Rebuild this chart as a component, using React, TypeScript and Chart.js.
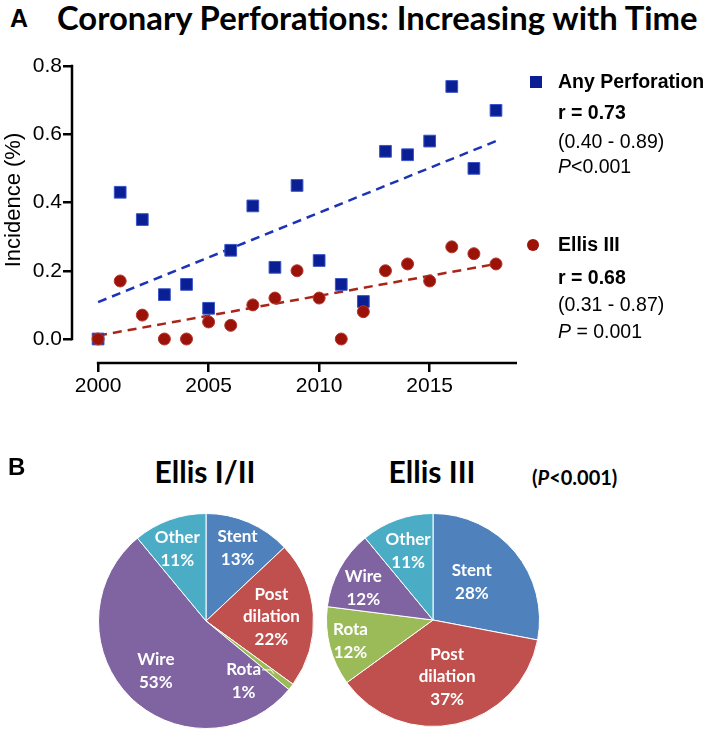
import React, { useEffect, useRef } from "react";
import { Chart, registerables } from "chart.js";
Chart.register(...registerables);

// ---------- Data ----------
const years = [2000, 2001, 2002, 2003, 2004, 2005, 2006, 2007, 2008, 2009, 2010, 2011, 2012, 2013, 2014, 2015, 2016, 2017, 2018];
const anyPerforation = [0, 0.43, 0.35, 0.13, 0.16, 0.09, 0.26, 0.39, 0.21, 0.45, 0.23, 0.16, 0.11, 0.55, 0.54, 0.58, 0.74, 0.5, 0.67];
const ellisIII = [0, 0.17, 0.07, 0, 0, 0.05, 0.04, 0.1, 0.12, 0.2, 0.12, 0, 0.08, 0.2, 0.22, 0.17, 0.27, 0.25, 0.22];
const trendYears = [2000, 2018];
const anyTrend = [0.108, 0.58];
const ellisTrend = [0.01, 0.22];
const yTicks = [0, 0.2, 0.4, 0.6, 0.8];
const xTicks = [2000, 2005, 2010, 2015];

const pieCategories = ["Stent", "Post dilation", "Rota", "Wire", "Other"];
const ellisI_II_share = [13, 22, 1, 53, 11];
const ellisIII_share = [28, 37, 12, 12, 11];
const pieColors = ["#4F81BD", "#C0504D", "#9BBB59", "#8064A2", "#4BACC6"];

// ---------- Styles ----------
const BLUE = "#0b1f94";
const BLUE_EDGE = "#3b55c8";
const RED = "#9a1208";
const RED_EDGE = "#b3382e";
const SANS = "'Liberation Sans', Arial, Helvetica, sans-serif";
const CAL = "Lato, 'Open Sans', sans-serif";

const pie1Place = { radius: [0.74, 0.61, 0.66, 0.66, 0.72], shift: [0, 0, 20.2, 0, -2], leader: [false, false, true, false, false] };
const pie2Place = { radius: [0.51, 0.55, 0.8, 0.72, 0.69], shift: [-4.7, -1.4, 0, -4.2, 0], leader: [false, false, false, false, false] };

function T(props: any) {
  const { x, y, size, weight, family, color, anchor, children, style } = props;
  const tx = anchor === "center" ? "-50%" : anchor === "right" ? "-100%" : "0";
  return (
    <div
      style={{
        position: "absolute",
        left: x,
        top: y,
        transform: `translate(${tx}, -50%)`,
        fontSize: size,
        fontWeight: weight || "normal",
        fontFamily: family || SANS,
        color: color || "#000",
        lineHeight: 1,
        whiteSpace: "nowrap",
        ...(style || {}),
      }}
    >
      {children}
    </div>
  );
}

function ScatterChart() {
  const ref = useRef<HTMLCanvasElement>(null);
  useEffect(() => {
    const axisPlugin = {
      id: "gpAxes",
      afterDatasetsDraw(chart: any) {
        const { ctx, chartArea, scales } = chart;
        const xs = scales.x;
        const ys = scales.y;
        ctx.save();
        ctx.strokeStyle = "#000";
        ctx.lineWidth = 2.5;
        ctx.lineCap = "butt";
        ctx.beginPath();
        ctx.moveTo(chartArea.left, ys.getPixelForValue(yTicks[yTicks.length - 1]) - 1.25);
        ctx.lineTo(chartArea.left, ys.getPixelForValue(yTicks[0]) + 1.25);
        ctx.stroke();
        ctx.beginPath();
        ctx.moveTo(xs.getPixelForValue(xTicks[0]) - 1.25, chartArea.bottom);
        ctx.lineTo(chartArea.right, chartArea.bottom);
        ctx.stroke();
        ctx.restore();
      },
    };
    const gridOpts = {
      display: true,
      drawOnChartArea: false,
      drawTicks: true,
      tickLength: 9,
      color: "#000",
      lineWidth: 2.5,
    };
    const chart = new Chart(ref.current as HTMLCanvasElement, {
      type: "scatter",
      data: {
        datasets: [
          {
            label: "Ellis III",
            data: years.map((x, i) => ({ x, y: ellisIII[i] })),
            pointStyle: "circle",
            pointRadius: 6,
            backgroundColor: RED,
            borderColor: RED_EDGE,
            borderWidth: 1,
            order: 0,
            clip: false,
          } as any,
          {
            label: "Any Perforation",
            data: years.map((x, i) => ({ x, y: anyPerforation[i] })),
            pointStyle: "rect",
            pointRadius: 8.3,
            backgroundColor: BLUE,
            borderColor: BLUE_EDGE,
            borderWidth: 1,
            order: 1,
            clip: false,
          } as any,
          {
            type: "line",
            label: "Any trend",
            data: trendYears.map((x, i) => ({ x, y: anyTrend[i] })),
            borderColor: "#1c33b8",
            borderWidth: 2.5,
            borderDash: [9, 6],
            pointRadius: 0,
            fill: false,
            order: 2,
          } as any,
          {
            type: "line",
            label: "Ellis trend",
            data: trendYears.map((x, i) => ({ x, y: ellisTrend[i] })),
            borderColor: "#aa2419",
            borderWidth: 2.5,
            borderDash: [9, 6],
            pointRadius: 0,
            fill: false,
            order: 2,
          } as any,
        ],
      },
      options: {
        responsive: false,
        animation: false,
        devicePixelRatio: 1,
        layout: { padding: { top: 26, right: 192, left: 0, bottom: 0 } },
        plugins: { legend: { display: false }, tooltip: { enabled: false } },
        scales: {
          x: {
            type: "linear",
            min: 1998.82,
            max: 2018.95,
            afterBuildTicks: (s: any) => {
              s.ticks = xTicks.map((v) => ({ value: v }));
            },
            afterFit: (s: any) => {
              s.height = 37;
            },
            grid: gridOpts,
            border: { display: false },
            ticks: {
              color: "#000",
              font: { family: SANS, size: 21 },
              padding: 2,
              maxRotation: 0,
              autoSkip: false,
              callback: (v: any) => String(v),
            },
          },
          y: {
            type: "linear",
            min: -0.0703,
            max: 0.8,
            afterBuildTicks: (s: any) => {
              s.ticks = yTicks.map((v) => ({ value: v }));
            },
            afterFit: (s: any) => {
              s.width = 72;
            },
            grid: gridOpts,
            border: { display: false },
            ticks: {
              color: "#000",
              font: { family: SANS, size: 21 },
              padding: 1,
              autoSkip: false,
              callback: (v: any) => Number(v).toFixed(1),
            },
          },
        },
      } as any,
      plugins: [axisPlugin],
    });
    return () => chart.destroy();
  }, []);
  return <canvas ref={ref} width={709} height={360} style={{ position: "absolute", left: 0, top: 40, width: 709, height: 360 }} />;
}

function PieChart(props: any) {
  const { values, place, left, top, size, pad } = props;
  const ref = useRef<HTMLCanvasElement>(null);
  useEffect(() => {
    const labelPlugin = {
      id: "sliceLabels",
      afterDatasetsDraw(chart: any) {
        const { ctx } = chart;
        const meta = chart.getDatasetMeta(0);
        ctx.save();
        ctx.fillStyle = "#fff";
        ctx.font = `bold 17px ${CAL}`;
        ctx.textAlign = "center";
        ctx.textBaseline = "middle";
        const lh = 22.5;
        meta.data.forEach((arc: any, i: number) => {
          const p = arc.getProps(["x", "y", "startAngle", "endAngle", "outerRadius"], true);
          const mid = (p.startAngle + p.endAngle) / 2;
          const ang = mid + (place.shift[i] * Math.PI) / 180;
          const r = p.outerRadius * place.radius[i];
          const cx = p.x + Math.cos(ang) * r;
          const cy = p.y + Math.sin(ang) * r;
          const lines = [...pieCategories[i].split(" "), `${values[i]}%`];
          const y0 = cy - ((lines.length - 1) * lh) / 2;
          lines.forEach((t, k) => ctx.fillText(t, cx, y0 + k * lh));
          if (place.leader[i]) {
            const w = ctx.measureText(lines[0]).width;
            const sx = cx + w / 2 + 1;
            const sy = y0;
            const ex = p.x + Math.cos(mid) * p.outerRadius * 0.8;
            const ey = p.y + Math.sin(mid) * p.outerRadius * 0.8;
            ctx.strokeStyle = "#fff";
            ctx.lineWidth = 1;
            ctx.beginPath();
            ctx.moveTo(sx, sy);
            ctx.lineTo(sx + 9, sy);
            ctx.lineTo(ex, ey);
            ctx.stroke();
          }
        });
        ctx.restore();
      },
    };
    const chart = new Chart(ref.current as HTMLCanvasElement, {
      type: "pie",
      data: {
        labels: pieCategories,
        datasets: [
          {
            data: values,
            backgroundColor: pieColors,
            borderColor: "#ffffff",
            borderWidth: 1,
          },
        ],
      },
      options: {
        responsive: false,
        animation: false,
        devicePixelRatio: 1,
        layout: { padding: pad },
        plugins: { legend: { display: false }, tooltip: { enabled: false } },
      } as any,
      plugins: [labelPlugin],
    });
    return () => chart.destroy();
  }, []);
  return <canvas ref={ref} width={size} height={size} style={{ position: "absolute", left, top, width: size, height: size }} />;
}

export default function App() {
  return (
    <div style={{ position: "absolute", left: 0, top: 0, width: 709, height: 731, background: "#fff", overflow: "hidden" }}>
      <T x={10} y={18} size={25} weight="bold">A</T>
      <T x={57} y={18} size={32.8} weight="bold" family={CAL}>Coronary Perforations: Increasing with Time</T>
      <ScatterChart />
      <div
        style={{
          position: "absolute",
          left: 13,
          top: 200,
          transform: "translate(-50%, -50%) rotate(-90deg)",
          fontFamily: SANS,
          fontSize: 22,
          lineHeight: 1,
          whiteSpace: "nowrap",
          color: "#000",
        }}
      >
        Incidence (%)
      </div>
      {/* legend */}
      <div style={{ position: "absolute", left: 530, top: 76, width: 12, height: 12, background: BLUE }} />
      <T x={558} y={82} size={19.5} weight="bold">Any Perforation</T>
      <T x={558} y={113} size={19.5} weight="bold">r = 0.73</T>
      <T x={558} y={142} size={19.5}>(0.40 - 0.89)</T>
      <T x={558} y={167} size={19.5}><i>P</i>&lt;0.001</T>
      <div style={{ position: "absolute", left: 527, top: 239, width: 12, height: 12, borderRadius: 6, background: RED }} />
      <T x={558} y={245} size={19.5} weight="bold">Ellis III</T>
      <T x={558} y={278} size={19.5} weight="bold">r = 0.68</T>
      <T x={558} y={305} size={19.5}>(0.31 - 0.87)</T>
      <T x={558} y={332} size={19.5}><i>P</i> = 0.001</T>

      <T x={8} y={467} size={24} weight="bold">B</T>
      <T x={205} y={471} size={30} weight="bold" family={CAL} anchor="center">Ellis I/II</T>
      <T x={432} y={471} size={30} weight="bold" family={CAL} anchor="center">Ellis III</T>
      <T x={532} y={477} size={20} weight="bold" family={CAL}>(<i>P</i>&lt;0.001)</T>

      <PieChart values={ellisI_II_share} place={pie1Place} left={86} top={501} size={240} pad={12} />
      <PieChart values={ellisIII_share} place={pie2Place} left={313} top={500} size={240} pad={13} />
    </div>
  );
}
